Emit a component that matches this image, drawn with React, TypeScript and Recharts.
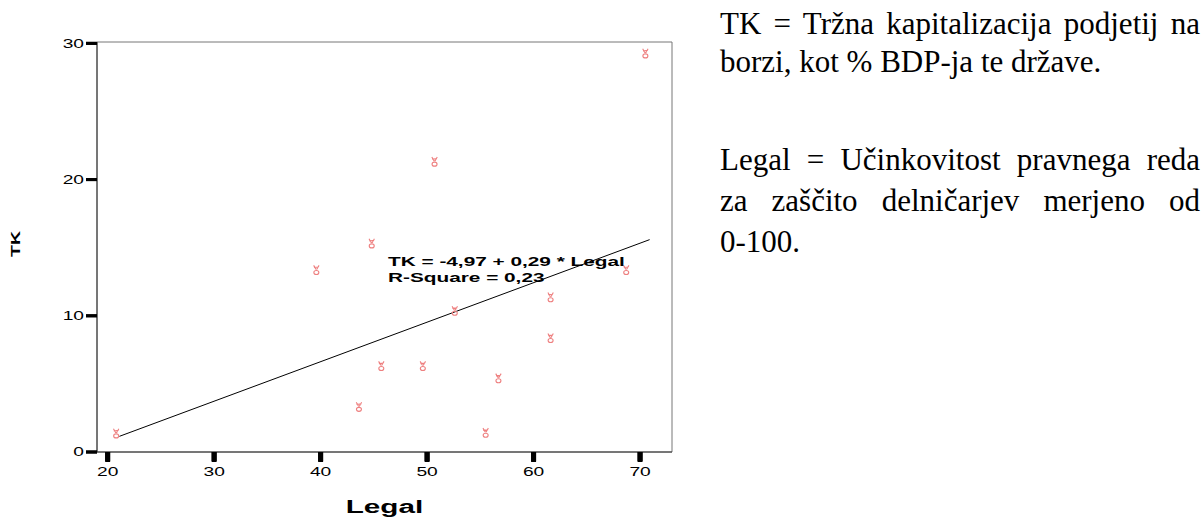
import React from "react";
import { ScatterChart, Scatter, XAxis, YAxis, ReferenceArea, ReferenceLine } from "recharts";

// ---- data ----
const legal = [20.8, 39.6, 43.6, 44.8, 45.7, 49.6, 50.7, 52.6, 55.5, 56.7, 61.6, 61.6, 68.7, 70.5];
const tk = [1.35, 13.35, 3.3, 15.3, 6.3, 6.3, 21.3, 10.35, 1.4, 5.4, 11.35, 8.35, 13.35, 29.25];
const xTicks = [20, 30, 40, 50, 60, 70];
const yTicks = [0, 10, 20, 30];
const intercept = -4.97;
const slope = 0.29;
const fitRange = [21.1, 70.9];
const annotationLines = ["TK = -4,97 + 0,29 * Legal", "R-Square = 0,23"];
const xTitle = "Legal";
const yTitle = "TK";
const notes1 = ["TK = Tržna kapitalizacija podjetij na", "borzi, kot % BDP-ja te države."];
const notes2 = ["Legal = Učinkovitost pravnega reda", "za zaščito delničarjev merjeno od", "0-100."];

const points = legal.map((x, i) => ({ x, y: tk[i] }));
const fitSegment = fitRange.map((x) => ({ x, y: intercept + slope * x }));

const SANS = "'Liberation Sans', Arial, sans-serif";
const SERIF = "'Liberation Serif', 'Times New Roman', serif";
const STRETCH = 1.6;
const X_TICK_SIZE = 10;
const X_TICK_MARGIN = 5;
const Y_TICK_SIZE = 11;
const Y_TICK_MARGIN = 2;

const XTick = (props: any) => {
  const { x, y, payload } = props;
  const top = y - X_TICK_MARGIN - X_TICK_SIZE;
  return (
    <g>
      <rect x={x - 2.5} y={top} width={5} height={X_TICK_SIZE - 1} fill="#000" />
      <g transform={`translate(${x},${y})`}>
        <text transform={`scale(${STRETCH},1)`} textAnchor="middle" dy="0.71em" fontSize={12} fontFamily={SANS} fill="#000">
          {payload.value}
        </text>
      </g>
    </g>
  );
};

const YTick = (props: any) => {
  const { x, y, payload } = props;
  const left = x + Y_TICK_MARGIN;
  return (
    <g>
      <rect x={left} y={y - 1.5} width={Y_TICK_SIZE} height={3} fill="#000" />
      <g transform={`translate(${x},${y})`}>
        <text transform={`scale(${STRETCH},1)`} textAnchor="end" dy="0.355em" fontSize={12} fontFamily={SANS} fill="#000">
          {payload.value}
        </text>
      </g>
    </g>
  );
};

const Victory = (props: any) => {
  const { cx, cy } = props;
  if (cx == null || cy == null) return null;
  return (
    <g stroke="#ee8080" strokeWidth={1.1} fill="none">
      <path d={`M${cx - 2.7},${cy - 4.8} L${cx - 0.3},${cy - 0.6} M${cx + 2.7},${cy - 4.8} L${cx + 0.3},${cy - 0.6} M${cx - 2.4},${cy - 2.6} L${cx + 2.4},${cy - 3.2}`} />
      <ellipse cx={cx} cy={cy + 2.3} rx={2.5} ry={2} />
    </g>
  );
};

export default function App() {
  const W = 700;
  const H = 519;
  return (
    <div style={{ position: "absolute", left: 0, top: 0, width: 1204, height: 519, background: "#fff" }}>
      <div style={{ position: "absolute", left: 0, top: 0 }}>
        <ScatterChart width={W} height={H} margin={{ top: 42, right: 28, bottom: 7, left: 0 }}>
          <XAxis
            type="number"
            dataKey="x"
            domain={[19, 73]}
            ticks={xTicks}
            allowDataOverflow
            height={60}
            tickSize={X_TICK_SIZE}
            tickMargin={X_TICK_MARGIN}
            axisLine={{ stroke: "#333", strokeWidth: 1 }}
            tickLine={{ stroke: "#000", strokeWidth: 5 }}
            tick={<XTick />}
            interval={0}
          />
          <YAxis
            type="number"
            dataKey="y"
            domain={[0, 30.1]}
            ticks={yTicks}
            allowDataOverflow
            width={97}
            tickSize={Y_TICK_SIZE}
            tickMargin={Y_TICK_MARGIN}
            axisLine={{ stroke: "#333", strokeWidth: 1 }}
            tickLine={{ stroke: "#000", strokeWidth: 3 }}
            tick={<YTick />}
            interval={0}
          />
          <ReferenceArea x1={19} x2={73} y1={0} y2={30.1} fill="none" stroke="#777" strokeWidth={1} />
          <ReferenceLine segment={fitSegment} stroke="#000" strokeWidth={1} />
          <Scatter data={points} shape={<Victory />} isAnimationActive={false} />
        </ScatterChart>
      </div>
      <svg width={700} height={519} style={{ position: "absolute", left: 0, top: 0, pointerEvents: "none" }}>
        <text transform="translate(19.5,244) rotate(-90) scale(1.5,1)" textAnchor="middle" fontSize={13} fontWeight="bold" fontFamily={SANS} fill="#000">
          {yTitle}
        </text>
        <text transform={`translate(384.5,513) scale(1.65,1)`} textAnchor="middle" fontSize={18} fontWeight="bold" fontFamily={SANS} fill="#000">
          {xTitle}
        </text>
        {annotationLines.map((t, i) => (
          <text key={t} transform={`translate(388,${265.5 + i * 16.5}) scale(1.6,1)`} fontSize={13} fontWeight="bold" fontFamily={SANS} fill="#000">
            {t}
          </text>
        ))}
      </svg>
      {notes1.map((t, i) => (
        <div
          key={t}
          style={{
            position: "absolute",
            left: 720,
            top: 34 + i * 37.7 - 26,
            width: 480,
            fontFamily: SERIF,
            fontSize: 31,
            lineHeight: "31px",
            color: "#000",
            whiteSpace: "nowrap",
            textAlign: "justify",
            textAlignLast: i < notes1.length - 1 ? "justify" : "left",
          }}
        >
          {t}
        </div>
      ))}
      {notes2.map((t, i) => (
        <div
          key={t}
          style={{
            position: "absolute",
            left: 720,
            top: 170 + i * 40.8 - 26,
            width: 480,
            fontFamily: SERIF,
            fontSize: 31,
            lineHeight: "31px",
            color: "#000",
            whiteSpace: "nowrap",
            textAlign: "justify",
            textAlignLast: i < notes2.length - 1 ? "justify" : "left",
          }}
        >
          {t}
        </div>
      ))}
    </div>
  );
}
